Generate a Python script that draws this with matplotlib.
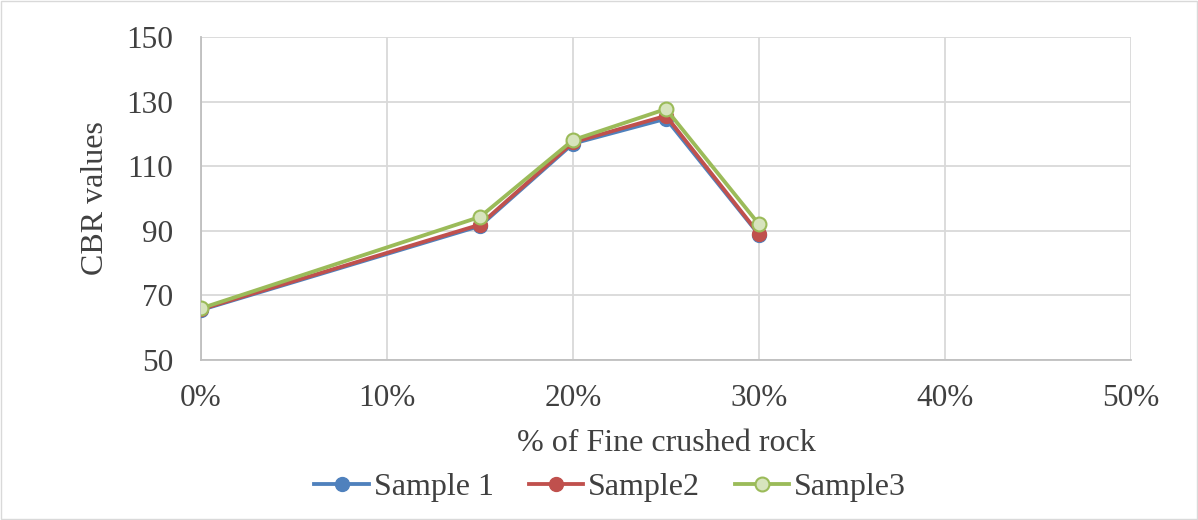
import matplotlib.pyplot as plt
from matplotlib.patches import Rectangle

# data
fine_rock = [0, 15, 20, 25, 30]
sample1 = [65.5, 91.5, 117.0, 124.7, 88.8]
sample2 = [65.7, 91.9, 117.4, 125.6, 89.0]
sample3 = [66.0, 94.3, 118.1, 127.7, 92.0]
x_ticks = [0, 10, 20, 30, 40, 50]
y_ticks = [50, 70, 90, 110, 130, 150]

plt.rcParams['font.family'] = ['Liberation Serif', 'DejaVu Serif']

fig = plt.figure(figsize=(11.98, 5.2), dpi=100)
ax = fig.add_axes([201 / 1198, 1 - 360 / 520, 930 / 1198, 323 / 520])

# thin border round the whole chart, like the Excel chart area
fig.patches.append(Rectangle((0.001, 0.002), 0.998, 0.996, transform=fig.transFigure,
                             fill=False, edgecolor='#d9d9d9', linewidth=1))

ax.plot(fine_rock, sample1, color='#4f81bd', linewidth=2.75, marker='o', markersize=10,
        markerfacecolor='#4f81bd', markeredgecolor='#4f81bd', label='Sample 1', zorder=3)
ax.plot(fine_rock, sample2, color='#c0504d', linewidth=2.75, marker='o', markersize=10,
        markerfacecolor='#c0504d', markeredgecolor='#c0504d', label='Sample2', zorder=4)
ax.plot(fine_rock, sample3, color='#9bbb59', linewidth=2.75, marker='o', markersize=10,
        markerfacecolor='#d7e4bd', markeredgecolor='#9bbb59', markeredgewidth=1.5,
        label='Sample3', zorder=5)

ax.set_xlim(0, 50)
ax.set_ylim(50, 150)
ax.set_xticks(x_ticks)
ax.set_xticklabels([f'{t}%' for t in x_ticks])
ax.set_yticks(y_ticks)
ax.grid(True, color='#d9d9d9', linewidth=1.3)
ax.set_axisbelow(True)
for side in ['top', 'right']:
    ax.spines[side].set_visible(False)
for side in ['left', 'bottom']:
    ax.spines[side].set_color('#bfbfbf')
    ax.spines[side].set_linewidth(1.3)
ax.tick_params(length=0, labelsize=22.5, labelcolor='#404040')
ax.tick_params(axis='y', pad=20)
ax.tick_params(axis='x', pad=17)

ax.set_xlabel('% of Fine crushed rock', fontsize=23, color='#404040', labelpad=12)
ax.set_ylabel('CBR values', fontsize=23, color='#404040', labelpad=12)

ax.legend(loc='center', bbox_to_anchor=(0.44, -0.395), ncol=3, frameon=False,
          fontsize=23, labelcolor='#404040', handlelength=1.7, handletextpad=0.15,
          columnspacing=1.1)

fig.savefig('out.png', dpi=100)
